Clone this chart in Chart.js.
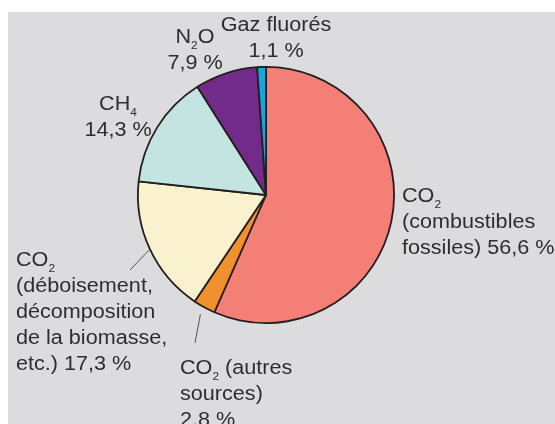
<!DOCTYPE html>
<html lang="fr">
<head>
<meta charset="utf-8">
<title>Émissions de gaz à effet de serre</title>
<script src="https://cdn.jsdelivr.net/npm/chart.js@4.4.1/dist/chart.umd.min.js"></script>
<style>
    html, body { margin: 0; padding: 0; background: #ffffff; }
    body { width: 555px; height: 424px; position: relative; overflow: hidden; }
    #panel { position: absolute; left: 8px; top: 12px; width: 547px; height: 412px; background: #dcdcde; }
</style>
</head>
<body>
<div id="panel"><canvas id="gasChart"></canvas></div>
<script>
// data
const categories = [
    'CO2 (combustibles fossiles)',
    'CO2 (autres sources)',
    'CO2 (déboisement, décomposition de la biomasse, etc.)',
    'CH4',
    'N2O',
    'Gaz fluorés'
];
const shares = [56.6, 2.8, 17.3, 14.3, 7.9, 1.1];
const sliceColors = ['#f47f76', '#f0912e', '#faf1cf', '#c4e4e2', '#722b8a', '#1ba4dc'];

// label text, {x} = subscript
const labelLines = [
    ['CO{2}', '(combustibles', 'fossiles) 56,6 %'],
    ['CO{2} (autres', 'sources)', '2,8 %'],
    ['CO{2}', '(déboisement,', 'décomposition', 'de la biomasse,', 'etc.) 17,3 %'],
    ['CH{4}', '14,3 %'],
    ['N{2}O', '7,9 %'],
    ['Gaz fluorés', '1,1 %']
];

// where each label sits, relative to the pie centre
const labelPlaces = [
    { dx: 136, dy: 7, align: 'left' },
    { dx: -86, dy: 179, align: 'left' },
    { dx: -250, dy: 71, align: 'left' },
    { dx: -148, dy: -85, align: 'center' },
    { dx: -71, dy: -152, align: 'center' },
    { dx: 10, dy: -164, align: 'center' }
];
// leader lines: slice index, start offset from rim, end point relative to centre
const leaders = [
    { index: 1, from: 8, dx: -71, dy: 148 },
    { index: 2, from: 0, dx: -136, dy: 75 }
];

const MAIN_FONT = '20px "Liberation Sans", Arial, sans-serif';
const SUB_FONT = '11px "Liberation Sans", Arial, sans-serif';
const SX = 1.08;
const LINE_H = 26;

function splitRich(str) {
    const out = [];
    str.split(/(\{[^}]*\})/).forEach(function(s) {
        if (!s) return;
        if (s[0] === '{') out.push({ t: s.slice(1, -1), sub: true });
        else out.push({ t: s, sub: false });
    });
    return out;
}

function drawRich(ctx, str, x, y, align) {
    const segs = splitRich(str);
    let w = 0;
    segs.forEach(function(s) {
        ctx.font = s.sub ? SUB_FONT : MAIN_FONT;
        s.w = ctx.measureText(s.t).width;
        w += s.w;
    });
    const start = align === 'center' ? x - w * SX / 2 : x;
    ctx.save();
    ctx.translate(start, y);
    ctx.scale(SX, 1);
    let px = 0;
    segs.forEach(function(s) {
        ctx.font = s.sub ? SUB_FONT : MAIN_FONT;
        ctx.fillText(s.t, px, s.sub ? 6 : 0);
        px += s.w;
    });
    ctx.restore();
}

const labelPlugin = {
    id: 'sliceLabels',
    afterDraw: function(chart) {
        const ctx = chart.ctx;
        const arcs = chart.getDatasetMeta(0).data;
        if (!arcs.length) return;
        const cx = arcs[0].x;
        const cy = arcs[0].y;

        ctx.save();
        ctx.strokeStyle = '#555555';
        ctx.lineWidth = 1;
        leaders.forEach(function(l) {
            const a = arcs[l.index];
            const mid = (a.startAngle + a.endAngle) / 2;
            const r = a.outerRadius + l.from;
            ctx.beginPath();
            ctx.moveTo(cx + Math.cos(mid) * r, cy + Math.sin(mid) * r);
            ctx.lineTo(cx + l.dx, cy + l.dy);
            ctx.stroke();
        });

        ctx.fillStyle = '#2e2e2e';
        ctx.textBaseline = 'alphabetic';
        ctx.textAlign = 'left';
        labelLines.forEach(function(lines, i) {
            const p = labelPlaces[i];
            lines.forEach(function(line, j) {
                drawRich(ctx, line, cx + p.dx, cy + p.dy + j * LINE_H, p.align);
            });
        });
        ctx.restore();
    }
};

document.addEventListener('DOMContentLoaded', function() {
    const ctx = document.getElementById('gasChart').getContext('2d');
    new Chart(ctx, {
        type: 'pie',
        data: {
            labels: categories,
            datasets: [{
                data: shares,
                backgroundColor: sliceColors,
                borderColor: '#231f20',
                borderWidth: 1.8
            }]
        },
        options: {
            responsive: true,
            maintainAspectRatio: false,
            animation: false,
            layout: {
                padding: { left: 129, right: 160, top: 54, bottom: 100 }
            },
            plugins: {
                legend: { display: false },
                tooltip: { enabled: false }
            }
        },
        plugins: [labelPlugin]
    });
});
</script>
</body>
</html>
